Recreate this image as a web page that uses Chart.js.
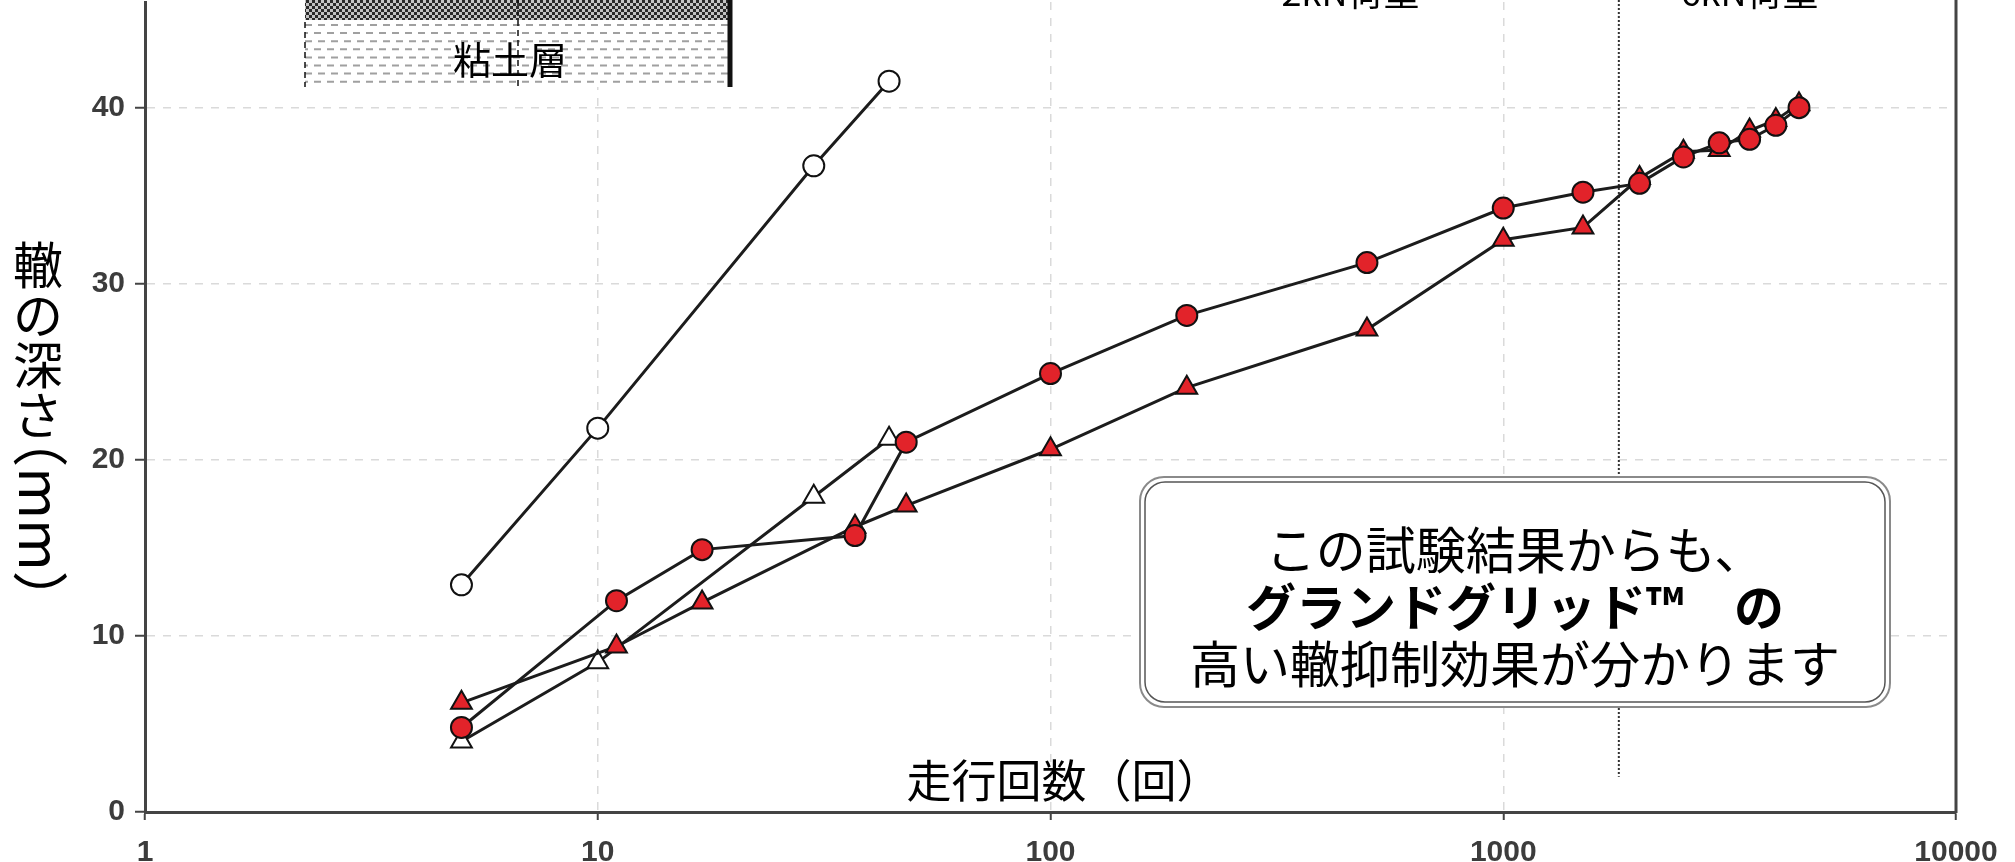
<!DOCTYPE html>
<html lang="ja">
<head>
<meta charset="utf-8">
<title>走行回数と轍の深さ</title>
<script src="https://cdn.jsdelivr.net/npm/chart.js@4.4.1/dist/chart.umd.min.js"></script>
<style>
    html, body { margin: 0; padding: 0; background: #fff; }
    #wrap { position: relative; width: 2015px; height: 862px; }
</style>
</head>
<body>
<div id="wrap"><canvas id="rutChart"></canvas></div>
<script>
// 走行回数（回）と轍の深さ（mm）
const redCirclePasses = [5, 11, 17, 37, 48, 100, 200, 500, 1000, 1500, 2000, 2500, 3000, 3500, 4000, 4500];
const redCircleDepth = [4.8, 12.0, 14.9, 15.7, 21.0, 24.9, 28.2, 31.2, 34.3, 35.2, 35.7, 37.2, 38.0, 38.2, 39.0, 40.0];

const redTrianglePasses = [5, 11, 17, 37, 48, 100, 200, 500, 1000, 1500, 2000, 2500, 3000, 3500, 4000, 4500];
const redTriangleDepth = [6.2, 9.4, 11.9, 16.2, 17.4, 20.6, 24.1, 27.4, 32.5, 33.2, 36.0, 37.5, 37.6, 38.7, 39.3, 40.2];

const openCirclePasses = [5, 10, 30, 44];
const openCircleDepth = [12.9, 21.8, 36.7, 41.5];

const openTrianglePasses = [5, 10, 30, 44];
const openTriangleDepth = [4.0, 8.5, 17.9, 21.2];

const xTicks = [1, 10, 100, 1000, 10000];
const yTicks = [0, 10, 20, 30, 40];

// load changes from 2kN to 6kN here
const loadChangeAt = 1800;
const loadLineBottom = 2;
const loadLabels = ['2kN荷重', '6kN荷重'];
const loadLabelAt = [460, 3500];

const xTitle = '走行回数（回）';
const yTitleChars = ['轍', 'の', '深', 'さ'];
const yTitleUnit = '（mm）';
const noteLines = ['この試験結果からも、', 'グランドグリッド™　の', '高い轍抑制効果が分かります'];

const RED = '#e2232a';
const JP = '"Noto Sans CJK JP", "Noto Sans", sans-serif';
const tickFont = { family: '"Liberation Sans Narrow", "Liberation Sans", Arial, sans-serif', size: 30, weight: 'bold' };

const toPoints = (xs, ys) => xs.map((x, i) => ({ x: x, y: ys[i] }));

const lineStyle = {
    borderColor: '#1c1c1c',
    borderWidth: 3,
    pointBorderColor: '#111',
    pointBorderWidth: 2,
    tension: 0,
    fill: false
};

function roundedRect(ctx, x, y, w, h, r) {
    ctx.beginPath();
    ctx.moveTo(x + r, y);
    ctx.arcTo(x + w, y, x + w, y + h, r);
    ctx.arcTo(x + w, y + h, x, y + h, r);
    ctx.arcTo(x, y + h, x, y, r);
    ctx.arcTo(x, y, x + w, y, r);
    ctx.closePath();
}

// small soil-layer sketch at the top left
function drawSoilInset(ctx) {
    const left = 305, right = 730, mid = 518, bottom = 87;

    const pat = document.createElement('canvas');
    pat.width = pat.height = 6;
    const p = pat.getContext('2d');
    p.fillStyle = '#c4c4c4';
    p.fillRect(0, 0, 6, 6);
    p.fillStyle = '#2b2b2b';
    p.fillRect(0, 0, 3, 3);
    p.fillRect(3, 3, 3, 3);

    ctx.save();
    ctx.fillStyle = '#fff';
    ctx.fillRect(left, 0, right - left, bottom);
    ctx.fillStyle = ctx.createPattern(pat, 'repeat');
    ctx.fillRect(left, 0, right - left, 20);

    ctx.strokeStyle = '#a0a0a0';
    ctx.lineWidth = 2;
    ctx.setLineDash([7, 6]);
    for (let i = 0; i < 8; i++) {
        const yy = 25 + i * 8.1;
        ctx.lineDashOffset = (i % 2) * 4;
        ctx.beginPath();
        ctx.moveTo(left, yy);
        ctx.lineTo(right, yy);
        ctx.stroke();
    }

    ctx.strokeStyle = '#111';
    ctx.lineWidth = 1.5;
    ctx.setLineDash([6, 4]);
    ctx.lineDashOffset = 0;
    ctx.beginPath();
    ctx.moveTo(left, 22);
    ctx.lineTo(left, bottom);
    ctx.moveTo(mid, 0);
    ctx.lineTo(mid, bottom);
    ctx.stroke();

    ctx.setLineDash([]);
    ctx.lineWidth = 5;
    ctx.beginPath();
    ctx.moveTo(right, 0);
    ctx.lineTo(right, bottom);
    ctx.stroke();

    ctx.fillStyle = '#000';
    ctx.font = '38px ' + JP;
    ctx.textAlign = 'center';
    ctx.textBaseline = 'middle';
    ctx.fillText('粘土層', 510, 60);
    ctx.restore();
}

const decorPlugin = {
    id: 'decor',
    beforeDatasetsDraw(chart) {
        const { ctx, scales: { x, y } } = chart;
        const lx = x.getPixelForValue(loadChangeAt);
        ctx.save();
        ctx.strokeStyle = '#333';
        ctx.lineWidth = 2;
        ctx.setLineDash([2, 2]);
        ctx.beginPath();
        ctx.moveTo(lx, 0);
        ctx.lineTo(lx, y.getPixelForValue(loadLineBottom));
        ctx.stroke();
        ctx.restore();
    },
    afterDraw(chart) {
        const { ctx, chartArea: a, scales: { x } } = chart;
        ctx.save();

        // right frame line
        ctx.strokeStyle = '#444';
        ctx.lineWidth = 3;
        ctx.beginPath();
        ctx.moveTo(a.right, 0);
        ctx.lineTo(a.right, a.bottom + 1);
        ctx.stroke();

        drawSoilInset(ctx);

        // load labels, mostly cut off at the top edge
        ctx.fillStyle = '#000';
        ctx.font = '36px ' + JP;
        ctx.textAlign = 'center';
        ctx.textBaseline = 'alphabetic';
        loadLabels.forEach((t, i) => ctx.fillText(t, x.getPixelForValue(loadLabelAt[i]), 6));

        // x title sits inside the plot
        ctx.textBaseline = 'middle';
        ctx.font = '45px ' + JP;
        ctx.fillText(xTitle, 1064, 781);

        // vertical y title
        ctx.font = '50px ' + JP;
        yTitleChars.forEach((c, i) => ctx.fillText(c, 38, 265 + i * 50));
        ctx.save();
        ctx.translate(40, 519);
        ctx.rotate(Math.PI / 2);
        ctx.font = '56px ' + JP;
        ctx.fillText(yTitleUnit, 0, 0);
        ctx.restore();

        // note box with double border
        const bx = 1140, by = 477, bw = 750, bh = 230;
        ctx.fillStyle = '#fff';
        roundedRect(ctx, bx, by, bw, bh, 24);
        ctx.fill();
        ctx.strokeStyle = '#8a8a8a';
        ctx.lineWidth = 2;
        ctx.stroke();
        roundedRect(ctx, bx + 5, by + 5, bw - 10, bh - 10, 20);
        ctx.strokeStyle = '#555';
        ctx.lineWidth = 1.5;
        ctx.stroke();

        ctx.fillStyle = '#000';
        const cx = bx + bw / 2;
        noteLines.forEach((t, i) => {
            ctx.font = (i === 1 ? 'bold ' : '') + '50px ' + JP;
            ctx.fillText(t, cx, 550 + i * 57);
        });

        ctx.restore();
    }
};

new Chart(document.getElementById('rutChart'), {
    type: 'line',
    data: {
        datasets: [
            {
                label: 'red circle',
                data: toPoints(redCirclePasses, redCircleDepth),
                pointStyle: 'circle',
                pointRadius: 10.5,
                pointBackgroundColor: RED,
                ...lineStyle
            },
            {
                label: 'red triangle',
                data: toPoints(redTrianglePasses, redTriangleDepth),
                pointStyle: 'triangle',
                pointRadius: 12,
                pointBackgroundColor: RED,
                ...lineStyle
            },
            {
                label: 'open circle',
                data: toPoints(openCirclePasses, openCircleDepth),
                pointStyle: 'circle',
                pointRadius: 10.5,
                pointBackgroundColor: '#fff',
                ...lineStyle
            },
            {
                label: 'open triangle',
                data: toPoints(openTrianglePasses, openTriangleDepth),
                pointStyle: 'triangle',
                pointRadius: 12,
                pointBackgroundColor: '#fff',
                ...lineStyle
            }
        ]
    },
    options: {
        responsive: true,
        maintainAspectRatio: false,
        animation: false,
        layout: { autoPadding: false, padding: { top: 2, right: 59, left: 0, bottom: 0 } },
        plugins: {
            legend: { display: false },
            tooltip: { enabled: false }
        },
        scales: {
            x: {
                type: 'logarithmic',
                min: 1,
                max: 10000,
                afterBuildTicks: (s) => { s.ticks = xTicks.map(v => ({ value: v })); },
                afterFit: (s) => {
                    s.height = 50;
                    s.paddingLeft = 0;
                    s.paddingRight = 0;
                },
                grid: { color: '#dadada', lineWidth: 1.5, tickLength: 8, tickColor: '#444', tickWidth: 2 },
                border: { display: true, color: '#444', width: 3, dash: [8, 8] },
                ticks: {
                    font: tickFont,
                    color: '#3c3c3c',
                    padding: 15,
                    maxRotation: 0,
                    autoSkip: false,
                    callback: (v) => String(v)
                }
            },
            y: {
                min: 0,
                max: 46,
                afterBuildTicks: (s) => { s.ticks = yTicks.map(v => ({ value: v })); },
                afterFit: (s) => {
                    s.width = 145;
                    s.paddingTop = 0;
                    s.paddingBottom = 0;
                },
                grid: { color: '#dadada', lineWidth: 1.5, tickLength: 10, tickColor: '#444', tickWidth: 2 },
                border: { display: true, color: '#444', width: 3, dash: [8, 8] },
                ticks: {
                    font: tickFont,
                    color: '#3c3c3c',
                    padding: 10,
                    callback: (v) => String(v)
                }
            }
        }
    },
    plugins: [decorPlugin]
});
</script>
</body>
</html>
